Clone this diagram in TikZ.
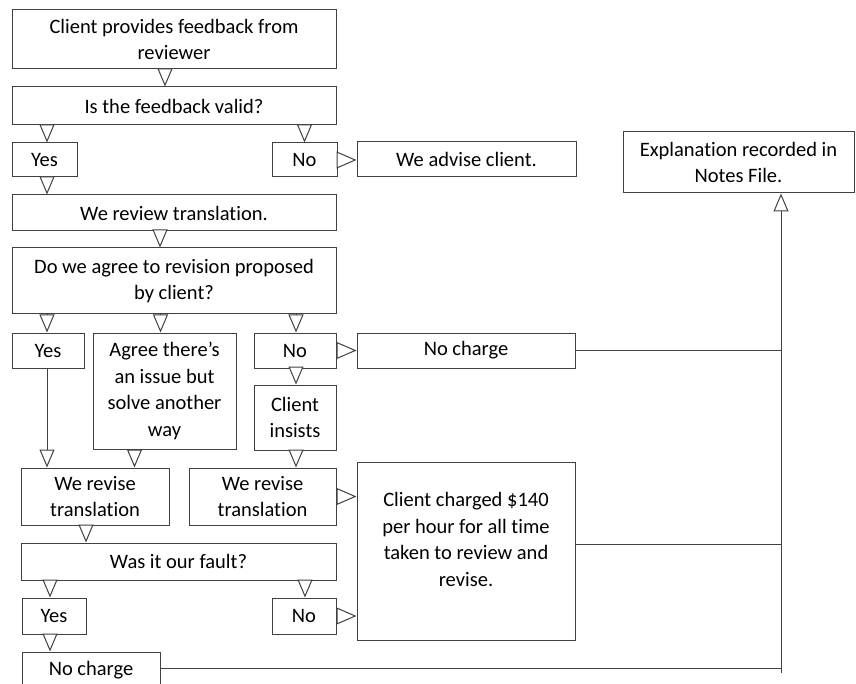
\documentclass[tikz,border=0pt]{standalone}
\usepackage{fontspec}
\setmainfont{Carlito}[Ligatures=NoCommon]
\usetikzlibrary{arrows.meta}
\begin{document}
\begin{tikzpicture}[x=1pt,y=-1pt,
		box/.style={draw=black!75,line width=1pt,inner sep=1pt,align=center,font=\fontsize{20.5}{26.5}\selectfont},
		tri/.style={draw=black!75,line width=1pt,-{Triangle[length=18pt,width=15pt,fill=white]}},
		trih/.style={draw=black!75,line width=1pt,-{Triangle[length=20pt,width=17pt,fill=white]}},
		link/.style={draw=black!75,line width=1pt}]
		\useasboundingbox (0,0) rectangle (856,684);
		\clip (0,0) rectangle (856,684);
		\node[box,minimum width=324pt,minimum height=59pt] (client) at (174,39.5) {Client provides feedback from\\reviewer};
		\node[box,minimum width=324pt,minimum height=38pt] (valid) at (174,106) {Is the feedback valid?};
		\node[box,minimum width=65pt,minimum height=34pt] (yesA) at (44.5,160) {Yes};
		\node[box,minimum width=65pt,minimum height=34pt] (noA) at (304.5,160) {No};
		\node[box,minimum width=219pt,minimum height=35pt] (advise) at (466.5,159.5) {We advise client.};
		\node[box,minimum width=324pt,minimum height=36pt] (review) at (174,213) {We review translation.};
		\node[box,minimum width=324pt,minimum height=66pt] (agree) at (174,281) {Do we agree to revision proposed\\by client?};
		\node[box,minimum width=72pt,minimum height=35pt] (yesB) at (48,350.5) {Yes};
		\node[box,minimum width=143pt,minimum height=116pt] (issue) at (164.5,391) {Agree there’s\\an issue but\\solve another\\way};
		\node[box,minimum width=82pt,minimum height=35pt] (noB) at (295,350.5) {No};
		\node[box,minimum width=218pt,minimum height=35pt] (nochargeA) at (466,350.5) {No charge};
		\node[box,minimum width=82pt,minimum height=65pt] (insists) at (295,417.5) {Client\\insists};
		\node[box,minimum width=148pt,minimum height=57pt] (reviseA) at (95,496.5) {We revise\\translation};
		\node[box,minimum width=147pt,minimum height=57pt] (reviseB) at (262.5,496.5) {We revise\\translation};
		\node[box,minimum width=218pt,minimum height=178pt,text depth=23pt] (charged) at (466,551) {Client charged \$140\\per hour for all time\\taken to review and\\revise.};
		\node[box,minimum width=315pt,minimum height=37pt] (fault) at (178.5,561.5) {Was it our fault?};
		\node[box,minimum width=64pt,minimum height=36pt] (yesC) at (54,616) {Yes};
		\node[box,minimum width=64pt,minimum height=36pt] (noC) at (304,616) {No};
		\node[box,minimum width=138pt,minimum height=36pt] (nochargeB) at (91,670) {No charge};
		\node[box,minimum width=231pt,minimum height=61pt] (explain) at (738.5,162.5) {Explanation recorded in\\Notes File.};
		\coordinate (trunk) at (781,673);
		\draw[tri] ([xshift=-9pt]client.south) -- ([xshift=-9pt]valid.north);
		\draw[tri] ([xshift=2.5pt]yesA.north |- valid.south) -- ([xshift=2.5pt]yesA.north);
		\draw[tri] (noA.north |- valid.south) -- (noA.north);
		\draw[trih] (noA.east) -- (noA.east -| advise.west);
		\draw[tri] ([xshift=2.5pt]yesA.south) -- ([xshift=2.5pt]yesA.south |- review.north);
		\draw[tri] ([xshift=-14pt]review.south) -- ([xshift=-14pt]agree.north);
		\draw[tri] ([xshift=-1pt]yesB.north |- agree.south) -- ([xshift=-1pt]yesB.north);
		\draw[tri] ([xshift=-4pt]issue.north |- agree.south) -- ([xshift=-4pt]issue.north);
		\draw[tri] ([xshift=1pt]noB.north |- agree.south) -- ([xshift=1pt]noB.north);
		\draw[trih] (noB.east) -- (noB.east -| nochargeA.west);
		\draw[tri] ([xshift=1pt]noB.south) -- ([xshift=1pt]insists.north);
		\draw[tri] ([xshift=-1pt]yesB.south) -- ([xshift=-1pt]yesB.south |- reviseA.north);
		\draw[tri] ([xshift=-30pt]issue.south) -- ([xshift=-30pt]issue.south |- reviseA.north);
		\draw[tri] ([xshift=1pt]insists.south) -- ([xshift=1pt]insists.south |- reviseB.north);
		\draw[trih] (reviseB.east) -- (reviseB.east -| charged.west);
		\draw[tri] ([xshift=-9pt]reviseA.south) -- ([xshift=-9pt]reviseA.south |- fault.north);
		\draw[tri] ([xshift=-4pt]yesC.north |- fault.south) -- ([xshift=-4pt]yesC.north);
		\draw[tri] ([xshift=1pt]noC.north |- fault.south) -- ([xshift=1pt]noC.north);
		\draw[trih] (noC.east) -- (noC.east -| charged.west);
		\draw[tri] ([xshift=-4pt]yesC.south) -- ([xshift=-4pt]yesC.south |- nochargeB.north);
		\draw[link] (nochargeA.east) -- (nochargeA.east -| trunk);
		\draw[link] ([yshift=7pt]charged.east) -- ([yshift=7pt]charged.east -| trunk);
		\draw[link] ([yshift=2pt]nochargeB.east) -- ([yshift=2pt]nochargeB.east -| trunk);
		\draw[tri] (trunk) -- (trunk |- explain.south);
	\end{tikzpicture}
\end{document}
